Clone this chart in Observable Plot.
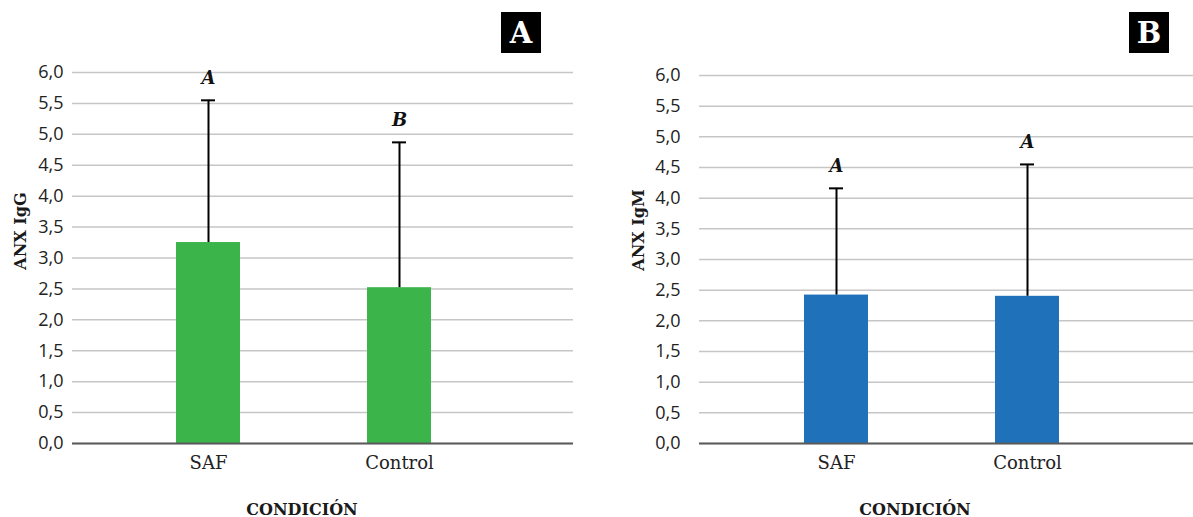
<!DOCTYPE html>
<html>
<head>
<meta charset="utf-8">
<script src="https://cdn.jsdelivr.net/npm/d3@7"></script>
<script src="https://cdn.jsdelivr.net/npm/@observablehq/plot@0.6"></script>
<style>
  html, body { margin: 0; padding: 0; background: #fff; }
  #wrap { position: relative; width: 1193px; height: 517px; overflow: hidden; }
  .panel { position: absolute; top: 0; }
  .box { position: absolute; background: #000; color: #fff; font: bold 29px "DejaVu Serif", serif;
         display: flex; align-items: center; justify-content: center; width: 40px; height: 41px; top: 12px; }
  .ytitle { position: absolute; font: bold 16px "DejaVu Serif", serif; color: #1a1a1a;
            transform: translate(-50%, -50%) rotate(-90deg); white-space: nowrap; }
  .xtitle { position: absolute; font: bold 16px "DejaVu Serif", serif; color: #1a1a1a;
            transform: translate(-50%, -50%); white-space: nowrap; }
</style>
</head>
<body>
<div id="wrap"></div>
<script>
const categories = ["SAF", "Control"];
const igGMean = [3.25, 2.52];
const igGSd = [2.30, 2.35];
const igGLetters = ["A", "B"];
const igMMean = [2.42, 2.40];
const igMSd = [1.74, 2.15];
const igMLetters = ["A", "A"];
const yTicks = [0, 0.5, 1, 1.5, 2, 2.5, 3, 3.5, 4, 4.5, 5, 5.5, 6];

const fmt = d => d.toFixed(1).replace(".", ",");

function panel(opts) {
  const data = categories.map((c, i) => ({
    cat: c, mean: opts.mean[i], upper: opts.mean[i] + opts.sd[i], letter: opts.letters[i]
  }));
  return Plot.plot({
    width: opts.width,
    height: 517,
    marginTop: opts.marginTop,
    marginBottom: 74,
    marginLeft: opts.marginLeft,
    marginRight: opts.marginRight,
    style: { background: "#fff" },
    x: { domain: categories, paddingInner: opts.pi, paddingOuter: opts.po, align: opts.align, label: null },
    y: { domain: [0, 6], label: null },
    marks: [
      Plot.gridY(yTicks, { stroke: "#c6c6c6", strokeOpacity: 1, strokeWidth: 1.5 }),
      Plot.axisY(yTicks, { tickSize: 0, tickPadding: opts.yPad, tickFormat: fmt, label: null,
        fontSize: 18, fontFamily: "Open Sans, sans-serif", fill: "#222" }),
      Plot.axisX({ tickSize: 0, tickPadding: 13, label: null,
        fontSize: 18, fontFamily: "DejaVu Serif, serif", fill: "#222" }),
      Plot.barY(data, { x: "cat", y: "mean", fill: opts.color }),
      Plot.ruleY([0], { stroke: "#5a5a5a", strokeWidth: 2 }),
      Plot.ruleX(data, { x: "cat", y1: "mean", y2: "upper", stroke: "#000", strokeWidth: 2 }),
      Plot.tickY(data, { x: "cat", y: "upper", stroke: "#000", strokeWidth: 2,
        insetLeft: 25, insetRight: 25 }),
      Plot.text(data, { x: "cat", y: "upper", text: "letter", dy: -22,
        fontSize: 18, fontWeight: "bold", fontStyle: "italic", fontFamily: "DejaVu Serif, serif", fill: "#111" })
    ]
  });
}

const wrap = document.getElementById("wrap");

const pA = panel({ width: 600, marginLeft: 72, marginRight: 27, marginTop: 72, yPad: 9,
  pi: 0.665, po: 0.644, align: 0.423,
  mean: igGMean, sd: igGSd, letters: igGLetters, color: "#3bb54a" });
const dA = document.createElement("div"); dA.className = "panel"; dA.style.left = "0px";
dA.appendChild(pA); wrap.appendChild(dA);

const pB = panel({ width: 593, marginLeft: 99, marginRight: 0, marginTop: 75, yPad: 19,
  pi: 0.667, po: 0.62, align: 0.437,
  mean: igMMean, sd: igMSd, letters: igMLetters, color: "#1f72ba" });
const dB = document.createElement("div"); dB.className = "panel"; dB.style.left = "600px";
dB.appendChild(pB); wrap.appendChild(dB);

function addDiv(cls, text, x, y) {
  const d = document.createElement("div");
  d.className = cls; d.textContent = text;
  d.style.left = x + "px"; d.style.top = y + "px";
  wrap.appendChild(d);
}
addDiv("box", "A", 501, 12);
addDiv("box", "B", 1129, 12);
addDiv("ytitle", "ANX IgG", 20, 231);
addDiv("ytitle", "ANX IgM", 638, 230);
addDiv("xtitle", "CONDICIÓN", 302, 509);
addDiv("xtitle", "CONDICIÓN", 915, 509);
</script>
</body>
</html>
